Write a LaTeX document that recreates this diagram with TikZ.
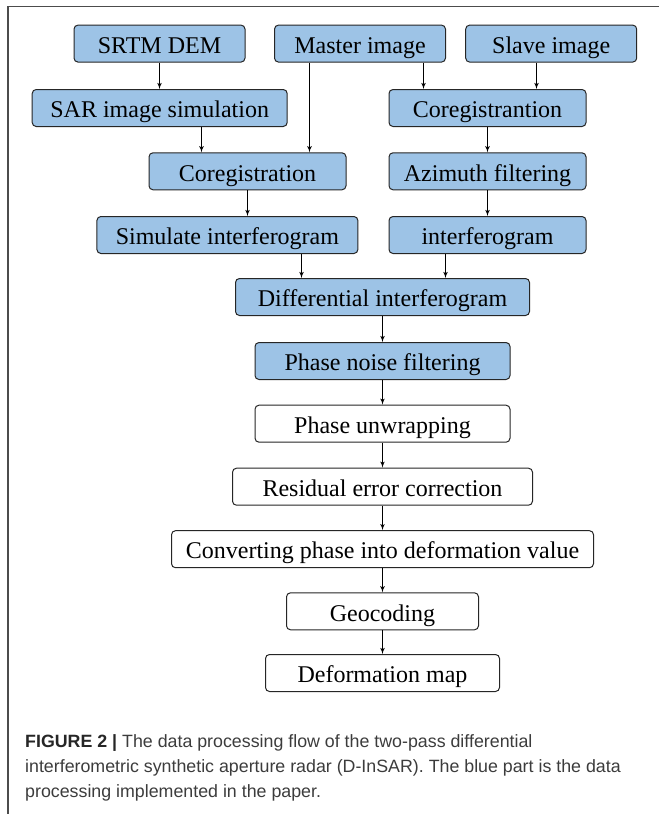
\documentclass[tikz,border=0pt]{standalone}
\usepackage{fontspec}
\setmainfont{Liberation Serif}
\newfontfamily\capfont{Liberation Sans}
\usetikzlibrary{arrows}
\definecolor{procblue}{RGB}{157,195,230}
\definecolor{capgray}{RGB}{60,60,60}
\tikzstyle{proc}=[draw=black!85, fill=procblue, rounded corners=4pt,
  minimum height=37pt, inner sep=0pt, line width=1pt,
  text height=20pt, text depth=0.6pt,
  font=\fontsize{24}{28}\selectfont]
\tikzstyle{plain} = [proc, fill=white]
\tikzstyle{line} = [draw, line width=1.1pt, -latex']
\tikzstyle{frame} = [draw=black!70, line width=1.1pt]
\tikzstyle{caption} = [anchor=base west, inner sep=0pt, text=capgray,
  font=\capfont\fontsize{17.8}{25}\selectfont]
\newcommand{\stage}[4]{node (#1) [#2, minimum width=#3pt] {#4}}

\begin{document}
\begin{tikzpicture}[x=1pt,y=-1pt]
  \useasboundingbox (0,0) rectangle (659,814);

  % frame of the figure panel
  \coordinate (corner) at (8,6.7);
  \draw[frame] (659,6.7) -- (corner) -- (8,814);

  % Draw diagram elements
  % input row
  \path (159.5,43.6) \stage{SRTM}{proc}{171}{SRTM DEM};
  \path (360,43.6) \stage{MASTER}{proc}{171}{Master image};
  \path (551.2,43.6) \stage{SLAVE}{proc}{171}{Slave image};
  % simulation branch
  \path (159.7,108) \stage{SARSIM}{proc}{255}{SAR image simulation};
  \path (247.5,171.3) \stage{COREGSIM}{proc}{197}{Coregistration};
  \path (227.4,235) \stage{SIMIFG}{proc}{261}{Simulate interferogram};
  % master/slave branch
  \path (487.5,108) \stage{COREG}{proc}{197}{Coregistrantion};
  \path (COREG)+(0,63.3) \stage{AZIMUTH}{proc}{197}{Azimuth filtering};
  \path (AZIMUTH)+(0,63.7) \stage{IFG}{proc}{197}{interferogram};
  % common chain
  \path (382.5,297) \stage{DIFF}{proc}{294}{Differential interferogram};
  \path (DIFF)+(0,64) \stage{NOISE}{proc}{255}{Phase noise filtering};
  \path (NOISE)+(0,62.7) \stage{UNWRAP}{plain}{255}{Phase unwrapping};
  \path (UNWRAP)+(0,63) \stage{RESIDUAL}{plain}{300}{Residual error correction};
  \path (RESIDUAL)+(0,62.5) \stage{CONVERT}{plain}{422}{Converting phase into deformation value};
  \path (CONVERT)+(0,62.1) \stage{GEOCODE}{plain}{192}{Geocoding};
  \path (GEOCODE)+(0,61.7) \stage{DEFMAP}{plain}{234}{Deformation map};

  % Draw arrows between elements
  \path [line] (SRTM) -- (SARSIM.north -| SRTM);
  \path [line] (SARSIM.south -| 201.5,0) -- (COREGSIM.north -| 201.5,0);
  \path [line] (MASTER.south -| 309.5,0) -- (COREGSIM.north -| 309.5,0);
  \path [line] (MASTER.south -| 423.5,0) -- (COREG.north -| 423.5,0);
  \path [line] (SLAVE.south -| 536.5,0) -- (COREG.north -| 536.5,0);
  \path [line] (COREGSIM) -- (SIMIFG.north -| COREGSIM);
  \path [line] (COREG) -- (AZIMUTH);
  \path [line] (AZIMUTH) -- (IFG);
  \path [line] (SIMIFG.south -| 301.5,0) -- (DIFF.north -| 301.5,0);
  \path [line] (IFG.south -| 445.5,0) -- (DIFF.north -| 445.5,0);
  \path [line] (DIFF) -- (NOISE);
  \path [line] (NOISE) -- (UNWRAP);
  \path [line] (UNWRAP) -- (RESIDUAL);
  \path [line] (RESIDUAL) -- (CONVERT);
  \path [line] (CONVERT) -- (GEOCODE);
  \path [line] (GEOCODE) -- (DEFMAP);

  % caption
  \node (CAP1) [caption] at (25,747.5)
    {\textbf{\color{black!85}FIGURE 2 |} The data processing flow of the two-pass differential};
  \node (CAP2) [caption] at (25,772.5)
    {interferometric synthetic aperture radar (D-InSAR). The blue part is the data};
  \node (CAP3) [caption] at (25,797.5) {processing implemented in the paper.};
\end{tikzpicture}
\end{document}
